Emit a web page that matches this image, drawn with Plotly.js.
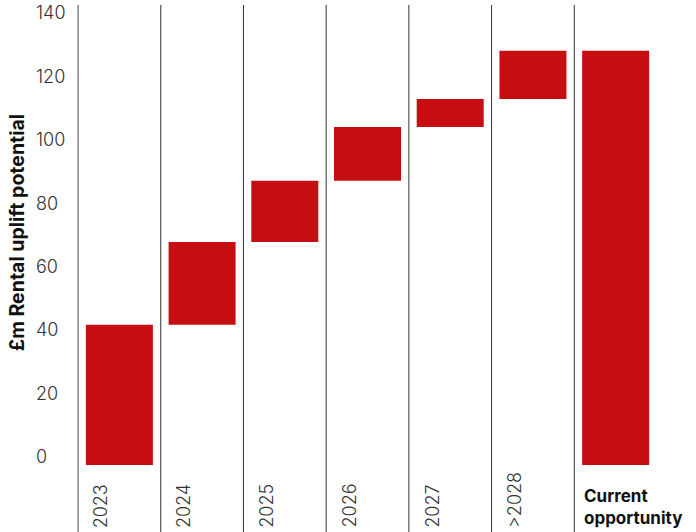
<!DOCTYPE html>
<html>
<head>
<meta charset="utf-8">
<script src="https://cdn.plot.ly/plotly-3.0.1.min.js"></script>
<style>html,body{margin:0;padding:0;background:#fff;}#chart{width:696px;height:532px;}</style>
</head>
<body>
<div id="chart"></div>
<script>
// Data
var categories = ["2023", "2024", "2025", "2026", "2027", ">2028", "Current opportunity"];
var yearLabels = ["2023", "2024", "2025", "2026", "2027", ">2028"];
var increments = [44.2, 26.1, 19.3, 17.0, 8.8, 15.2];
var totalLabel = "Current<br>opportunity";
var yTickVals = [0, 20, 40, 60, 80, 100, 120, 140];
var yTitle = "£m Rental uplift potential";

var red = "#C60D11";
var measures = increments.map(function(){ return "relative"; }).concat(["total"]);
var yvals = increments.concat([0]);

var trace = {
  type: "waterfall",
  x: categories,
  y: yvals,
  measure: measures,
  increasing: {marker: {color: red}},
  decreasing: {marker: {color: red}},
  totals: {marker: {color: red}},
  connector: {visible: false},
  textinfo: "none",
  hoverinfo: "skip",
  showlegend: false
};

var shapes = [];
for (var i = 0; i < categories.length; i++) {
  shapes.push({
    type: "line", xref: "x", yref: "paper",
    x0: i - 0.5, x1: i - 0.5, y0: -0.2, y1: 1,
    line: {color: "#333", width: 1}
  });
}

var annotations = yearLabels.map(function(t, i) {
  return {
    text: t, xref: "x", yref: "paper", x: i, y: -0.129,
    xanchor: "center", yanchor: "bottom", xshift: -18,
    textangle: -90, showarrow: false,
    font: {family: "Inter, Roboto, sans-serif", size: 18, color: "#333", weight: 300}
  };
});
annotations.push({
  text: totalLabel, xref: "x", yref: "paper", x: categories.length - 1.5, y: -0.03,
  xanchor: "left", yanchor: "top", xshift: 8, align: "left", showarrow: false,
  font: {family: "Inter, Roboto, sans-serif", size: 17, color: "#111", weight: 700}
});
annotations.push({
  text: yTitle, xref: "paper", yref: "paper", x: 17/696, y: 0.509,
  xanchor: "center", yanchor: "middle", textangle: -90, showarrow: false,
  font: {family: "Inter, Roboto, sans-serif", size: 19.5, color: "#111", weight: 700}
});

var layout = {
  width: 696, height: 532,
  margin: {l: 0, r: 0, t: 5, b: 62, pad: 0},
  paper_bgcolor: "#fff", plot_bgcolor: "#fff",
  waterfallgap: 0.19,
  xaxis: {
    type: "category", domain: [77.2/696, 657/696], range: [-0.51, 6.5],
    showticklabels: false, ticks: "", showline: false, showgrid: false, zeroline: false,
    fixedrange: true
  },
  yaxis: {
    anchor: "free", position: 35/696, side: "right",
    range: [-1.58, 145.06], tickvals: yTickVals,
    ticks: "", ticklen: 0, showline: false, showgrid: false, zeroline: false,
    ticklabelshift: -8,
    tickfont: {family: "Inter, Roboto, sans-serif", size: 18, color: "#333", weight: 300},
    fixedrange: true
  },
  shapes: shapes,
  annotations: annotations,
  font: {family: "Inter, Roboto, sans-serif"}
};

Plotly.newPlot("chart", [trace], layout, {displayModeBar: false, staticPlot: true});
</script>
</body>
</html>
